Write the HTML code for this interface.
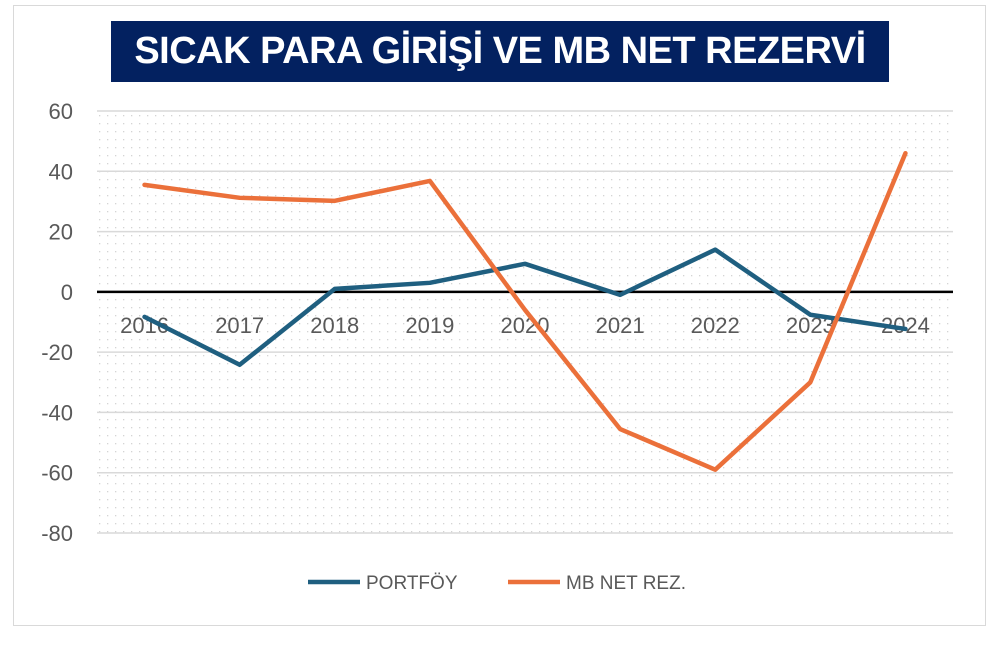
<!DOCTYPE html>
<html><head><meta charset="utf-8"><style>
body{margin:0;background:#fff;width:1004px;height:650px;overflow:hidden;font-family:"Liberation Sans","DejaVu Sans",sans-serif;}
#frame{position:absolute;left:13px;top:5px;width:971px;height:619px;border:1px solid #d9d9d9;}
#title{position:absolute;left:111px;top:21px;width:778px;height:61px;background:#032160;color:#fff;font:bold 38px "Liberation Sans",sans-serif;text-align:center;line-height:61px;letter-spacing:-0.5px;}
svg{position:absolute;left:0;top:0;}
</style></head><body>
<div id="frame"></div>
<div id="title">SICAK PARA GİRİŞİ VE MB NET REZERVİ</div>
<svg id="chart" width="1004" height="650">
<defs><pattern id="dots" width="8" height="8" patternUnits="userSpaceOnUse"><rect x="3" y="3" width="1.3" height="1.3" fill="#d4d4d4"/></pattern></defs>
</svg>
<script>
const categories=["2016","2017","2018","2019","2020","2021","2022","2023","2024"];
const portfoy=[-8.3,-24.2,1,3,9.3,-1,14,-7.6,-12.3];
const mbNet=[35.5,31.2,30.2,36.8,-6,-45.5,-59,-30,46];
const yTicks=[60,40,20,0,-20,-40,-60,-80];
const seriesNames=["PORTFÖY","MB NET REZ."];
const colors=["#1f5f80","#eb703a"];
const svg=document.getElementById('chart');const NS='http://www.w3.org/2000/svg';
const L=97,R=953,T=111,B=533,ymin=-80,ymax=60;
const xs=i=>L+(R-L)/categories.length*(i+0.5);
const ys=v=>T+(ymax-v)/(ymax-ymin)*(B-T);
function mk(t,a,p){const e=document.createElementNS(NS,t);for(const k in a)e.setAttribute(k,a[k]);(p||svg).appendChild(e);return e;}
const bg=mk('rect',{x:L,y:T,width:R-L,height:B-T,fill:'url(#dots)'});


yTicks.forEach(v=>{
 const g=mk('line',{x1:L,x2:R,y1:ys(v),y2:ys(v),stroke:v===0?'#000':'#d9d9d9','stroke-width':v===0?2.5:1.5});
 
 
 const t=mk('text',{x:73,y:ys(v)+8,'text-anchor':'end','font-size':22,fill:'#595959'});
 t.textContent=v;
 
 
});
categories.forEach((c,i)=>{
 const t=mk('text',{x:xs(i),y:333,'text-anchor':'middle','font-size':22,fill:'#595959'});
 t.textContent=c;
 
 
});
[portfoy,mbNet].forEach((s,k)=>{
 const p=mk('polyline',{points:s.map((v,i)=>xs(i)+','+ys(v)).join(' '),fill:'none',stroke:colors[k],'stroke-width':4.5,'stroke-linejoin':'round','stroke-linecap':'round'});
 
 
});
const lx=[308,508];
seriesNames.forEach((n,k)=>{
 const l=mk('line',{x1:lx[k],x2:lx[k]+52,y1:582,y2:582,stroke:colors[k],'stroke-width':4.5});
 
 
 const t=mk('text',{x:lx[k]+58,y:589,'font-size':19,fill:'#595959'});
 t.textContent=n;
 
 
});
</script>
</body></html>
